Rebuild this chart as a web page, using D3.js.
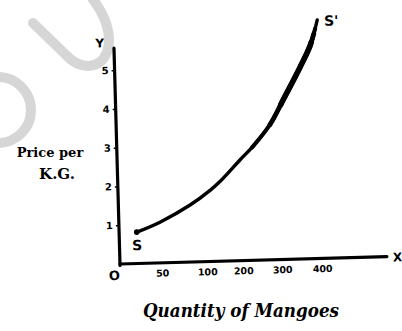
<!DOCTYPE html>
<html>
<head>
<meta charset="utf-8">
<script src="https://cdn.jsdelivr.net/npm/d3@7"></script>
<style>
  html, body { margin: 0; padding: 0; background: #fff; }
  svg { display: block; }
  .tick text { font-family: "DejaVu Sans", sans-serif; font-weight: bold; fill: #000; }
</style>
</head>
<body>
<svg id="chart" width="402" height="331"></svg>
<script>
// Supply of mangoes: quantity offered at each price per K.G.
const quantity = [21, 49, 83, 115, 143, 200, 235, 280, 314, 359, 386, 405];
const price    = [0.81, 1.05, 1.47, 1.84, 2.06, 2.60, 2.95, 3.50, 4.11, 4.95, 5.51, 6.15];

// The quantity axis is not evenly spaced: each labelled step gets roughly the same width.
const quantityStops = [0, 50, 100, 200, 300, 400];
const xTickValues = [50, 100, 200, 300, 400];
const yTickValues = [1, 2, 3, 4, 5];

const supply = quantity.map((q, i) => ({ q, p: price[i] }));

const svg = d3.select("#chart");

// faint grey stamp in the top-left corner of the page
const stamp = svg.append("g")
  .attr("fill", "none")
  .attr("stroke", "#d6d6d6")
  .attr("stroke-width", 10)
  .attr("stroke-linecap", "round");
stamp.append("path").attr("d", "M33,23 L66,55 C80,70 100,70 107,52 C113,35 105,15 92,-2");
stamp.append("path").attr("d", "M-2,77 A33,33 0 0 1 -2,143");

const x = d3.scaleLinear()
  .domain(quantityStops)
  .range([120, 162, 207, 243, 282, 322]);

const y = d3.scaleLinear()
  .domain([0, 5.57])
  .range([264, 48]);

// the printed figure sits slightly askew on the page
const plot = svg.append("g").attr("transform", "rotate(-1.6,120,264)");

// axis lines
plot.append("line")
  .attr("x1", x(0)).attr("y1", y(0) + 1.5)
  .attr("x2", x(0)).attr("y2", y(5.57))
  .attr("stroke", "#000").attr("stroke-width", 3.2).attr("stroke-linecap", "round");
plot.append("line")
  .attr("x1", x(0)).attr("y1", y(0))
  .attr("x2", 387).attr("y2", y(0))
  .attr("stroke", "#000").attr("stroke-width", 3.2).attr("stroke-linecap", "round");

// tick labels
const xAxis = plot.append("g")
  .attr("transform", `translate(0,${y(0)})`)
  .call(d3.axisBottom(x).tickValues(xTickValues).tickSize(0).tickPadding(7));
xAxis.select(".domain").remove();
xAxis.selectAll(".tick text").style("font-size", "9.5px");

const yAxis = plot.append("g")
  .attr("transform", `translate(${x(0)},0)`)
  .call(d3.axisLeft(y).tickValues(yTickValues).tickFormat(d3.format("d")).tickSize(3).tickPadding(3));
yAxis.select(".domain").remove();
yAxis.selectAll(".tick line").attr("stroke", "#000").attr("stroke-width", 1.5);
yAxis.selectAll(".tick text").style("font-size", "10px");

// origin and axis letters
plot.append("text")
  .attr("x", x(0) - 6).attr("y", y(0) + 16)
  .attr("text-anchor", "middle")
  .attr("font-family", "DejaVu Sans, sans-serif").attr("font-weight", "bold")
  .attr("font-size", 13).text("O");
plot.append("text")
  .attr("x", 393).attr("y", y(0) + 5)
  .attr("font-family", "DejaVu Sans, sans-serif").attr("font-weight", "bold")
  .attr("font-size", 12).text("X");
plot.append("text")
  .attr("x", x(0) - 14).attr("y", y(5.57) - 1)
  .attr("text-anchor", "middle")
  .attr("font-family", "DejaVu Sans, sans-serif").attr("font-weight", "bold")
  .attr("font-size", 12).text("Y");

// supply curve
const line = d3.line()
  .x(d => x(d.q))
  .y(d => y(d.p))
  .curve(d3.curveCatmullRom.alpha(0.5));

const curve = plot.append("path")
  .datum(supply)
  .attr("d", line)
  .attr("fill", "none")
  .attr("stroke", "#000")
  .attr("stroke-width", 3.4)
  .attr("stroke-linecap", "round");

// ink grows heavier along the steep upper part: the same path is redrawn
// in dashed passes, each slightly wider over a shorter stretch
const total = curve.node().getTotalLength();
const heavyPasses = [
  { from: 0.50, to: 0.97, width: 4.0 },
  { from: 0.60, to: 0.95, width: 4.8 },
  { from: 0.68, to: 0.92, width: 5.6 }
];
heavyPasses.forEach(pass => {
  const a = total * pass.from, b = total * pass.to;
  plot.append("path")
    .datum(supply)
    .attr("d", line)
    .attr("fill", "none")
    .attr("stroke", "#000")
    .attr("stroke-width", pass.width)
    .attr("stroke-linecap", "round")
    .attr("stroke-dasharray", `0 ${a} ${b - a} ${total}`);
});

// curve end labels
const first = supply[0], last = supply[supply.length - 1];
plot.append("text")
  .attr("x", x(first.q)).attr("y", y(first.p) + 18)
  .attr("text-anchor", "middle")
  .attr("font-family", "DejaVu Sans, sans-serif").attr("font-weight", "bold")
  .attr("font-size", 14).text("S");
plot.append("text")
  .attr("x", x(last.q) + 14).attr("y", y(last.p) + 6)
  .attr("text-anchor", "middle")
  .attr("font-family", "DejaVu Sans, sans-serif").attr("font-weight", "bold")
  .attr("font-size", 14).text("S'");

// axis titles
const yTitle = svg.append("text")
  .attr("font-family", "DejaVu Serif, serif").attr("font-weight", "bold")
  .attr("text-anchor", "middle");
yTitle.append("tspan").attr("x", 50).attr("y", 157).attr("font-size", 13).text("Price per");
yTitle.append("tspan").attr("x", 57).attr("y", 179).attr("font-size", 15).text("K.G.");

svg.append("text")
  .attr("x", 241).attr("y", 317)
  .attr("text-anchor", "middle")
  .attr("font-family", "DejaVu Serif, serif").attr("font-weight", "bold")
  .attr("font-style", "italic")
  .attr("font-size", 18)
  .attr("textLength", 196).attr("lengthAdjust", "spacingAndGlyphs")
  .text("Quantity of Mangoes");
</script>
</body>
</html>
